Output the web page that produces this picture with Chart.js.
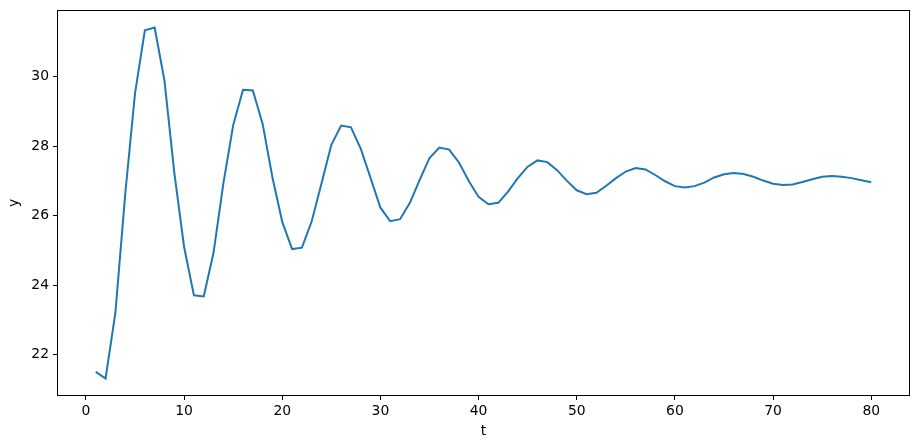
<!DOCTYPE html>
<html>
<head>
<meta charset="utf-8">
<script src="https://cdn.jsdelivr.net/npm/chart.js@4/dist/chart.umd.min.js"></script>
<style>
html,body{margin:0;padding:0;background:#fff;}
#wrap{width:919px;height:448px;}
</style>
</head>
<body>
<div id="wrap"><canvas id="c" width="919" height="448"></canvas></div>
<script>
const tValues = [];
for (let i = 1; i <= 80; i++) tValues.push(i);
const yValues = [
  21.51, 21.32, 23.21, 26.62, 29.52, 31.33, 31.41, 29.88, 27.24, 25.10,
  23.71, 23.68, 24.94, 26.93, 28.60, 29.62, 29.60, 28.64, 27.10, 25.82,
  25.04, 25.08, 25.84, 26.93, 28.04, 28.59, 28.54, 27.92, 27.08, 26.23,
  25.84, 25.90, 26.37, 27.03, 27.66, 27.96, 27.90, 27.53, 27.00, 26.54,
  26.33, 26.37, 26.69, 27.08, 27.41, 27.59, 27.54, 27.31, 27.00, 26.73,
  26.62, 26.66, 26.86, 27.08, 27.27, 27.37, 27.33, 27.17, 26.99, 26.85,
  26.81, 26.85, 26.95, 27.10, 27.19, 27.23, 27.20, 27.12, 27.01, 26.92,
  26.88, 26.90, 26.97, 27.05, 27.12, 27.14, 27.12, 27.08, 27.02, 26.96
];
const xTickValues = [0, 10, 20, 30, 40, 50, 60, 70, 80];
const yTickValues = [22, 24, 26, 28, 30];
const xLabel = 't';
const yLabel = 'y';

const points = tValues.map((t, i) => ({x: t, y: yValues[i]}));
const tMin = Math.min(...tValues), tMax = Math.max(...tValues);
const yMin = Math.min(...yValues), yMax = Math.max(...yValues);
const xm = (tMax - tMin) * 0.05, ym = (yMax - yMin) * 0.05;

const FONT = 'DejaVu Sans';
const frame = {
  id: 'frame',
  afterDraw(chart) {
    const a = chart.chartArea, ctx = chart.ctx;
    ctx.save();
    ctx.strokeStyle = '#000';
    ctx.lineWidth = 1;
    ctx.strokeRect(Math.round(a.left) + 0.5, Math.round(a.top) + 0.5,
                   Math.round(a.right - a.left) - 1, Math.round(a.bottom - a.top) - 1);
    ctx.restore();
  }
};

new Chart(document.getElementById('c'), {
  type: 'line',
  data: {
    datasets: [{
      data: points,
      borderColor: '#1f77b4',
      borderWidth: 2,
      pointRadius: 0,
      tension: 0,
      fill: false
    }]
  },
  options: {
    responsive: false,
    animation: false,
    layout: {padding: {top: 10, right: 9, left: 0, bottom: 0}},
    plugins: {legend: {display: false}, tooltip: {enabled: false}},
    scales: {
      x: {
        type: 'linear',
        min: tMin - xm,
        max: tMax + xm,
        afterBuildTicks(s) { s.ticks = xTickValues.map(v => ({value: v})); },
        afterFit(s) { s.height = 52; s.paddingLeft = 0; s.paddingRight = 0; },
        grid: {drawOnChartArea: false, drawTicks: true, tickLength: 4, tickColor: '#000', tickWidth: 1},
        border: {display: false},
        ticks: {color: '#000', font: {family: FONT, size: 13.9}, padding: 3, maxRotation: 0, autoSkip: false},
        title: {display: true, text: xLabel, color: '#000', font: {family: FONT, size: 13.9}, padding: {top: 0, bottom: 8}}
      },
      y: {
        type: 'linear',
        min: yMin - ym,
        max: yMax + ym,
        afterBuildTicks(s) { s.ticks = yTickValues.map(v => ({value: v})); },
        afterFit(s) { s.width = 57; s.paddingTop = 0; s.paddingBottom = 0; },
        grid: {drawOnChartArea: false, drawTicks: true, tickLength: 4, tickColor: '#000', tickWidth: 1},
        border: {display: false},
        ticks: {color: '#000', font: {family: FONT, size: 13.9}, padding: 4, autoSkip: false},
        title: {display: true, text: yLabel, color: '#000', font: {family: FONT, size: 13.9}, padding: {top: 6, bottom: 0}}
      }
    }
  },
  plugins: [frame]
});
</script>
</body>
</html>
